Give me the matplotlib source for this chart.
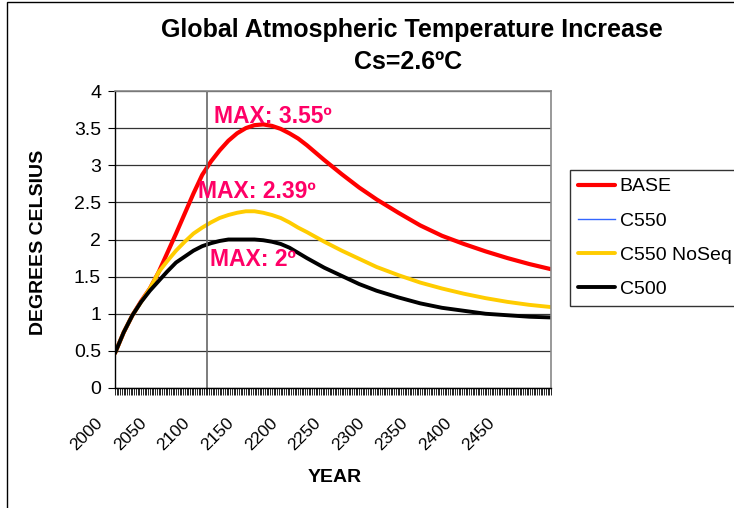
import matplotlib
matplotlib.use("Agg")
import matplotlib.pyplot as plt
import matplotlib.transforms as mtransforms
from matplotlib.patches import Rectangle

plt.rcParams['font.family'] = ['Liberation Sans', 'DejaVu Sans']

years = [2000, 2010, 2020, 2030, 2040, 2050, 2060, 2070, 2080, 2090,
         2100, 2110, 2120, 2130, 2140, 2150, 2160, 2170, 2180, 2190,
         2200, 2210, 2220, 2240, 2260, 2280, 2300, 2325, 2350, 2375,
         2400, 2425, 2450, 2475, 2500]
base = [0.47, 0.75, 0.98, 1.17, 1.34, 1.56, 1.82, 2.08, 2.35, 2.62,
        2.87, 3.05, 3.20, 3.33, 3.43, 3.50, 3.54, 3.55, 3.53, 3.49,
        3.43, 3.36, 3.27, 3.07, 2.88, 2.70, 2.54, 2.36, 2.19, 2.05,
        1.94, 1.84, 1.75, 1.67, 1.60]
c550 = [0.47, 0.75, 0.98, 1.16, 1.31, 1.44, 1.57, 1.69, 1.77, 1.85,
        1.91, 1.95, 1.98, 2.00, 2.00, 2.00, 2.00, 1.99, 1.97, 1.94,
        1.89, 1.82, 1.75, 1.62, 1.51, 1.40, 1.31, 1.22, 1.14, 1.08,
        1.04, 1.00, 0.98, 0.96, 0.95]
c550_noseq = [0.47, 0.75, 0.98, 1.16, 1.34, 1.56, 1.71, 1.85, 1.97, 2.08,
              2.16, 2.23, 2.29, 2.33, 2.36, 2.38, 2.38, 2.36, 2.33, 2.29,
              2.23, 2.16, 2.10, 1.97, 1.85, 1.74, 1.63, 1.52, 1.42, 1.34,
              1.27, 1.21, 1.16, 1.12, 1.09]
c500 = [0.47, 0.75, 0.98, 1.16, 1.31, 1.44, 1.57, 1.69, 1.77, 1.85,
        1.91, 1.95, 1.98, 2.00, 2.00, 2.00, 2.00, 1.99, 1.97, 1.94,
        1.89, 1.82, 1.75, 1.62, 1.51, 1.40, 1.31, 1.22, 1.14, 1.08,
        1.04, 1.00, 0.98, 0.96, 0.95]

year_labels = [2000, 2050, 2100, 2150, 2200, 2250, 2300, 2350, 2400, 2450]
y_ticks = [0, 0.5, 1, 1.5, 2, 2.5, 3, 3.5, 4]
max_notes = [("MAX: 3.55º", 2114, 3.66), ("MAX: 2.39º", 2095, 2.64), ("MAX: 2º", 2109, 1.73)]

fig = plt.figure(figsize=(7.34, 5.08), dpi=100)
fig.patches.append(Rectangle((7 / 734, -0.5), 2, 1.5 - 1.5 / 508, transform=fig.transFigure,
                             fill=False, edgecolor='black', lw=1))
ax = fig.add_axes([115 / 734, 1 - 388 / 508, 436 / 734, 297 / 508])

ax.plot(years, base, color='#FF0000', lw=3.0, label='BASE', solid_capstyle='round')
ax.plot(years, c550, color='#3366FF', lw=1.0, label='C550')
ax.plot(years, c550_noseq, color='#FFCC00', lw=2.8, label='C550 NoSeq', solid_capstyle='round')
ax.plot(years, c500, color='#000000', lw=2.8, label='C500', solid_capstyle='round')

ax.set_xlim(2000, 2500)
ax.set_ylim(0, 4)
ax.set_yticks(y_ticks)
ax.set_yticklabels([f"{t:g}" for t in y_ticks], fontsize=14)
ax.set_xticks(year_labels)
ax.set_xticks(range(2000, 2501, 2), minor=True)
ax.set_xticklabels([str(y) for y in year_labels], fontsize=12.5, rotation=45,
                   ha='right', va='top', rotation_mode='anchor')

ax.tick_params(axis='x', which='both', direction='out', length=5, width=0.6, color='black')
ax.tick_params(axis='y', direction='out', length=5, width=0.8, pad=5)

# shift the slanted year labels down and left like the original
offset = mtransforms.ScaledTranslation(-20 / 100, -15 / 100, fig.dpi_scale_trans)
for lbl in ax.get_xticklabels():
    lbl.set_transform(lbl.get_transform() + offset)

ax.grid(axis='y', color='#333333', lw=0.9)
ax.axvline(2105, color='#666666', lw=1.2)
ax.set_axisbelow(True)
for s in ['top', 'right']:
    ax.spines[s].set_color('#888888')
    ax.spines[s].set_linewidth(1.2)
for s in ['left', 'bottom']:
    ax.spines[s].set_color('black')
    ax.spines[s].set_linewidth(1.0)

for txt, x, y in max_notes:
    ax.text(x, y, txt, color='#FF0066', fontsize=16.5, fontweight='bold', va='center', ha='left')

fig.text(412 / 734, 1 - 30 / 508, "Global Atmospheric Temperature Increase",
         ha='center', va='center', fontsize=18, fontweight='bold')
fig.text(408 / 734, 1 - 62 / 508, "Cs=2.6ºC", ha='center', va='center',
         fontsize=18, fontweight='bold')
fig.text(39 / 734, 1 - 242 / 508, "DEGREES CELSIUS", rotation=90, ha='center', va='center',
         fontsize=14, fontweight='bold')
fig.text(335 / 734, 1 - 478 / 508, "YEAR", ha='center', va='center',
         fontsize=14, fontweight='bold')

leg = fig.legend(loc='upper left', bbox_to_anchor=(570 / 734, 1 - 170 / 508),
                 fontsize=14, frameon=True, fancybox=False, edgecolor='black',
                 handlelength=1.9, handletextpad=0.25, labelspacing=0.85,
                 borderpad=0.4, borderaxespad=0)
leg.get_frame().set_linewidth(1.0)

fig.savefig("out.png", dpi=100)
